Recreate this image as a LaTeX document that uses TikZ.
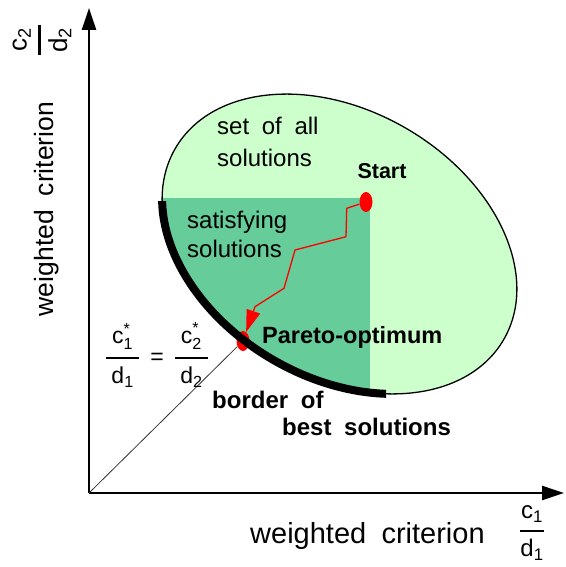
\documentclass[tikz,border=0pt]{standalone}
\usepackage{amsmath}
\usepackage{fontspec}
\setmainfont{Liberation Sans}[WordSpace=1.9]
\usetikzlibrary{arrows.meta,shapes.geometric}

\definecolor{setgreen}{RGB}{204,255,204}
\definecolor{satgreen}{RGB}{102,204,153}
\newcommand{\wfrac}[3][0pt]{\genfrac{}{}{2.5pt}{0}{\hspace{#1}#2\hspace{#1}}{#3}}
\newcommand{\wsub}[2]{\text{#1}_{\text{#2}}}
\newcommand{\wstar}[2]{\text{#1}^{\text{*}}_{\text{#2}}}

\begin{document}
\begin{tikzpicture}[x=1pt, y=-1pt,
    axis/.style={line width=2.5pt, -{Triangle[length=22pt, width=14pt]}},
    reddot/.style={ellipse, fill=red, inner sep=0pt, minimum width=13pt, minimum height=20pt},
    lbl/.style={inner sep=0pt, align=left}]
  \useasboundingbox (0,0) rectangle (565,567);
  % ------------------------------------------------------------------ set of all solutions
  \path[save path=\solset, rotate around={-30.3:(339.5,244)}]
    (339.5,244) ellipse [x radius=190pt, y radius=133.5pt];
  \fill[setgreen, use path=\solset];
  \begin{scope}
    \clip[use path=\solset];
    \fill[satgreen] (140,198) rectangle (370,420);
  \end{scope}
  \draw[line width=1.3pt, use path=\solset];
  % ------------------------------------------------------------------ axes
  \coordinate (O) at (89,493);
  \coordinate (ytop) at (89,8);
  \coordinate (xend) at (564,493);
  \draw[axis] (O) -- (ytop);
  \draw[axis] (O) -- (xend);
  % ------------------------------------------------------------------ start, path, optimum
  \node[reddot] (start) at (366,202) {};
  \node[reddot] (pareto) at (243,341) {};
  \draw[black!80, line width=0.8pt] (O) -- (pareto);
  % border of best solutions
  \begin{scope}
    \clip (140,201) rectangle (386,430);
    \draw[line width=8pt, use path=\solset];
  \end{scope}
  \draw[red, line width=1.3pt, -{Triangle[length=22pt, width=14pt]}]
    (start) -- (346.7,208.3) -- (346,236.7) -- (295,250) -- (284,288.3) -- (255,306.7) -- (pareto);
  % ------------------------------------------------------------------ labels
  \node[lbl, anchor=north west, font=\fontsize{24}{32}\selectfont] (setall) at (217,117)
    {set of all\\solutions};
  \node[lbl, anchor=north west, font=\fontsize{24}{29}\selectfont] (satis) at (187,210.5)
    {satisfying\\solutions};
  \node[lbl, font=\bfseries\fontsize{21.5}{26}\selectfont] (startlbl) at (382,171) {Start};
  \node[lbl, anchor=base west, font=\bfseries\fontsize{23.5}{28}\selectfont] (paretolbl) at (262,343)
    {Pareto-optimum};
  \node[lbl, anchor=north west, font=\bfseries\fontsize{24}{27}\selectfont] (border) at (212,390.5)
    {border of\\\hspace*{70pt}best solutions};
  \node[lbl, anchor=base west, font=\fontsize{29}{34}\selectfont] (xlbl) at (250,543)
    {weighted criterion};
  \node[lbl, rotate=90, font=\fontsize{26.5}{32}\selectfont] (ylbl) at (47,209)
    {weighted criterion};
  \node[lbl, font=\fontsize{24}{28}\selectfont] (xfrac) at (532,533)
    {$\wfrac[1pt]{\wsub{c}{1}}{\wsub{d}{1}}$};
  \node[lbl, rotate=90, font=\fontsize{26}{30}\selectfont] (yfrac) at (42,40)
    {$\wfrac[3pt]{\wsub{c}{2}}{\wsub{d}{2}}$};
  \node[lbl, font=\fontsize{23}{27}\selectfont] (optfrac) at (157,355)
    {$\wfrac[6pt]{\wstar{c}{1}}{\wsub{d}{1}}\hspace{10pt}\text{=}\hspace{10pt}\wfrac[6pt]{\wstar{c}{2}}{\wsub{d}{2}}$};
\end{tikzpicture}
\end{document}
